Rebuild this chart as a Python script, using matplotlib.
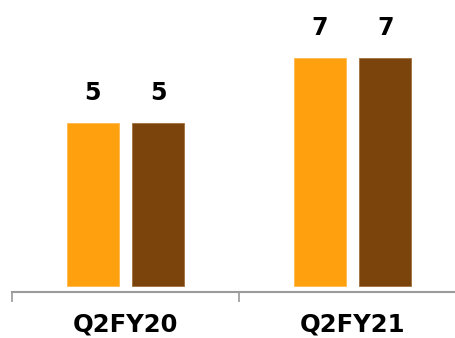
import matplotlib
matplotlib.use("Agg")
import matplotlib.pyplot as plt
import numpy as np

categories = ["Q2FY20", "Q2FY21"]
series_a = [5, 7]
series_b = [5, 7]
labels_a = ["5", "7"]
labels_b = ["5", "7"]

color_a = "#FFA10F"
color_b = "#7B440C"

fig = plt.figure(figsize=(4.55, 3.38), dpi=100)
ax = fig.add_axes([12 / 455, 46 / 338, 454 / 455, 266 / 338])

x = np.arange(len(categories))
w = 0.229
off = 0.144
bars_a = ax.bar(x - off, series_a, width=w, color=color_a, edgecolor="#FFB84D", linewidth=0.6)
bars_b = ax.bar(x + off, series_b, width=w, color=color_b, edgecolor="#A0703E", linewidth=0.6)

for bars, labs in ((bars_a, labels_a), (bars_b, labels_b)):
    for b, t in zip(bars, labs):
        ax.annotate(t, (b.get_x() + b.get_width() / 2, b.get_height()),
                    xytext=(0, 22), textcoords="offset points",
                    ha="center", va="center", fontsize=17, fontweight="bold",
                    color="black")

ax.set_xlim(-0.5, 1.5)
ax.set_ylim(-0.2, 8)

for s in ("top", "right", "left"):
    ax.spines[s].set_visible(False)
ax.spines["bottom"].set_color("#9A9A9A")
ax.spines["bottom"].set_linewidth(1.5)

ax.set_yticks([])
ax.set_xticks([-0.5, 0.5, 1.5])
ax.set_xticklabels([])
ax.tick_params(axis="x", length=7, width=1.2, color="#9A9A9A", direction="out")
ax.set_xticks(x, minor=True)
ax.set_xticklabels(categories, minor=True, fontsize=17.5, fontweight="bold")
ax.tick_params(axis="x", which="minor", length=0, pad=15)

fig.savefig("out.png", dpi=100)
